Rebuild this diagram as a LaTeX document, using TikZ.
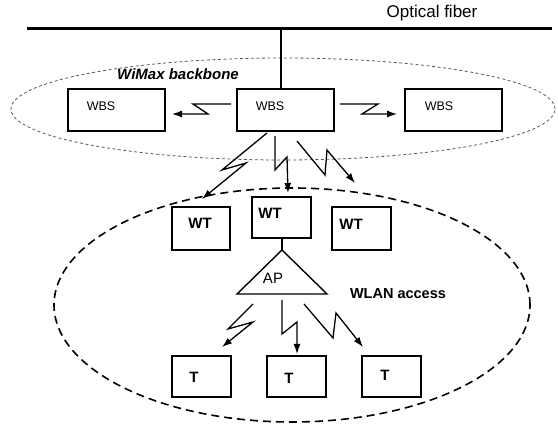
\documentclass[tikz,border=0pt]{standalone}
\usepackage{fontspec}
\setmainfont{Liberation Sans}
\usetikzlibrary{arrows.meta}
\begin{document}
\begin{tikzpicture}[x=1pt,y=-1pt,
  box/.style={draw, line width=1.4pt, inner sep=0pt},
  zz/.style={line width=1.3pt, -{Latex[length=10pt,width=7pt]}, line join=miter},
  reg/.style={font=\fontsize{12.5}{14}\selectfont, inner sep=0pt},
  bld/.style={font=\bfseries\fontsize{15}{17}\selectfont, inner sep=0pt}]
\useasboundingbox (0,0) rectangle (558,427);

% optical fiber
\coordinate (fibL) at (27,29);
\coordinate (fibR) at (552,29);
\draw[line width=3pt] (fibL) -- (fibR);
\node[font=\fontsize{17}{20}\selectfont, inner sep=0pt] (fibtxt) at (432,13) {Optical fiber};

% ellipses
\draw[black!65, line width=0.8pt, dash pattern=on 3pt off 2.5pt] (283,109) ellipse [x radius=272pt, y radius=51pt];
\draw[line width=1.6pt, dash pattern=on 8pt off 5pt] (292,305) ellipse [x radius=238pt, y radius=117pt];

\node[font=\bfseries\itshape\fontsize{15}{17}\selectfont, inner sep=0pt] (wimax) at (178,74) {WiMax backbone};
\node[font=\bfseries\fontsize{14.5}{17}\selectfont, inner sep=0pt] (wlan) at (398,294) {WLAN access};

% WBS boxes
\node[box, minimum width=97pt, minimum height=42pt] (wbsL) at (116.5,110) {};
\node[box, minimum width=97pt, minimum height=42pt] (wbsM) at (285.5,110) {};
\node[box, minimum width=97pt, minimum height=42pt] (wbsR) at (453.5,110) {};
\node[reg] (wbsLt) at (101,106) {WBS};
\node[reg] (wbsMt) at (270,106) {WBS};
\node[reg] (wbsRt) at (439,106) {WBS};

\coordinate (fibM) at (281,29);
\draw[line width=1.2pt] (fibM) -- (fibM |- wbsM.north);

% WT boxes
\node[box, minimum width=58pt, minimum height=43pt] (wtL) at (201,228.5) {};
\node[box, minimum width=59pt, minimum height=41pt] (wtM) at (281.5,217.5) {};
\node[box, minimum width=59pt, minimum height=43pt] (wtR) at (361.5,228.5) {};
\node[bld] (wtLt) at (200,223) {WT};
\node[bld] (wtMt) at (270,213) {WT};
\node[bld] (wtRt) at (351,224) {WT};

% AP triangle
\coordinate (apTop) at (282,250);
\coordinate (apBL) at (237,294);
\coordinate (apBR) at (327,294);
\draw[line width=1.4pt, line join=miter] (apTop) -- (apBR) -- (apBL) -- cycle;
\node[font=\fontsize{15}{17}\selectfont, inner sep=0pt] (ap) at (273,278) {AP};
\draw[line width=1.2pt] (wtM.south -| apTop) -- (apTop);

% T boxes
\node[box, minimum width=59pt, minimum height=41pt] (tL) at (201.5,376.5) {};
\node[box, minimum width=59pt, minimum height=41pt] (tM) at (296.5,376.5) {};
\node[box, minimum width=59pt, minimum height=41pt] (tR) at (391.5,376.5) {};
\node[bld] (tLt) at (194,377) {T};
\node[bld] (tMt) at (289,378) {T};
\node[bld] (tRt) at (385,375) {T};

% WBS links
\draw[zz] (231,104) -- (193,104) -- (208,114) -- (172,114);
\draw[zz] (340,104) -- (378,104) -- (362,114) -- (397,114);

% WBS -> WT links
\draw[zz] (267,133) -- (222,170) -- (246,163) -- (202,199);
\draw[zz] (275,136) -- (275,170) -- (287,157) -- (288,193);
\draw[zz] (297,141) -- (325,175) -- (327,150) -- (355,183);

% AP -> T links
\draw[zz] (253,304) -- (228,329) -- (253,322) -- (222,347);
\draw[zz] (282,300) -- (282,334) -- (297,322) -- (297,354);
\draw[zz] (304,304) -- (333,338) -- (336,313) -- (363,347);
\end{tikzpicture}
\end{document}
